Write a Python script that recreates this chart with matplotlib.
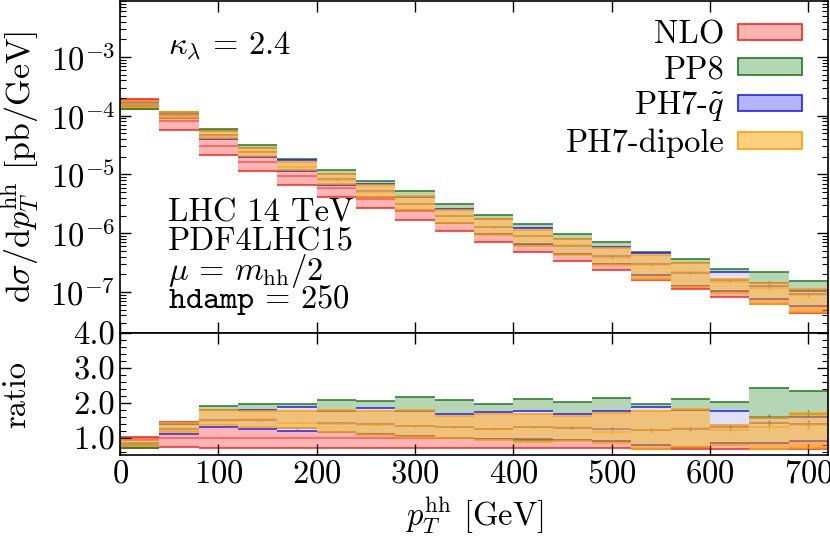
import numpy as np
import matplotlib
matplotlib.use("Agg")
import matplotlib.pyplot as plt
from matplotlib.patches import Patch
from matplotlib.ticker import FixedLocator, MultipleLocator, FormatStrFormatter, LogLocator

plt.rcParams["font.family"] = "serif"
plt.rcParams["font.serif"] = ["cmr10"]
plt.rcParams["mathtext.fontset"] = "cm"
plt.rcParams["axes.formatter.use_mathtext"] = True
plt.rcParams["font.size"] = 23.5

# bins in pT^hh [GeV]
pt_edges = [0, 40, 80, 120, 160, 200, 240, 280, 320, 360, 400, 440, 480, 520, 560, 600, 640, 680, 720]

# NLO central value [pb/GeV]
nlo_central = [1.88e-4, 8.1e-5, 3.08e-5, 1.61e-5, 9.5e-6, 5.83e-6, 3.79e-6, 2.40e-6, 1.52e-6,
               1.02e-6, 6.82e-7, 4.82e-7, 3.32e-7, 2.41e-7, 1.70e-7, 1.23e-7, 9.0e-8, 6.5e-8]

# everything below is relative to the NLO central value
nlo_lo = [0.70, 0.72, 0.71, 0.71, 0.71, 0.71, 0.71, 0.70, 0.71, 0.69, 0.70, 0.69, 0.70, 0.67, 0.67, 0.68, 0.68, 0.68]
nlo_c = [1.0] * 18
nlo_hi = [1.02, 1.44, 1.34, 1.30, 1.27, 1.25, 1.24, 1.23, 1.22, 1.21, 1.20, 1.20, 1.19, 1.19, 1.18, 1.18, 1.17, 1.17]

pp8_lo = [0.70, 1.15, 1.35, 1.30, 1.28, 1.20, 1.12, 1.10, 1.05, 0.95, 0.92, 0.92, 0.92, 0.85, 0.85, 0.95, 1.00, 1.05]
pp8_c = [0.74, 1.25, 1.55, 1.55, 1.49, 1.45, 1.40, 1.40, 1.35, 1.28, 1.33, 1.32, 1.30, 1.25, 1.30, 1.30, 1.59, 1.68]
pp8_hi = [0.80, 1.38, 1.92, 1.95, 1.97, 2.07, 2.06, 2.15, 2.09, 1.97, 2.11, 2.03, 2.14, 1.97, 2.12, 2.02, 2.42, 2.35]

ph7q_lo = [0.78, 1.11, 1.30, 1.25, 1.20, 1.15, 1.10, 1.05, 1.00, 0.95, 0.95, 0.92, 0.89, 0.80, 0.73, 0.85, 0.84, 0.90]
ph7q_c = [0.85, 1.25, 1.50, 1.50, 1.27, 1.42, 1.38, 1.33, 1.30, 1.25, 1.30, 1.28, 1.25, 1.22, 1.25, 1.30, 1.41, 1.40]
ph7q_hi = [0.92, 1.40, 1.80, 1.78, 1.88, 1.76, 1.84, 1.75, 1.69, 1.72, 1.77, 1.67, 1.75, 1.89, 1.80, 1.77, 1.55, 1.60]

dip_lo = [0.75, 1.15, 1.35, 1.30, 1.27, 1.17, 1.08, 1.02, 1.00, 0.93, 0.88, 0.90, 0.85, 0.68, 0.72, 0.79, 0.68, 0.70]
dip_c = [0.80, 1.21, 1.47, 1.52, 1.43, 1.39, 1.35, 1.33, 1.30, 1.24, 1.30, 1.30, 1.15, 1.21, 1.27, 1.22, 1.30, 1.35]
dip_hi = [0.94, 1.42, 1.78, 1.76, 1.75, 1.78, 1.75, 1.80, 1.63, 1.68, 1.67, 1.63, 1.70, 1.75, 1.83, 1.35, 1.55, 1.70]

# relative MC statistical error of the showered samples
stat_err = [0.005, 0.005, 0.005, 0.008, 0.01, 0.01, 0.012, 0.015, 0.02, 0.02,
            0.025, 0.03, 0.035, 0.04, 0.045, 0.05, 0.06, 0.07]

# name, lo, central, hi, line colour, band colour, legend colour, stat bar
series = [
    ("NLO", nlo_lo, nlo_c, nlo_hi, "#ff2020", "#ffb4b4", "#ffb4b4", False),
    ("PP8", pp8_lo, pp8_c, pp8_hi, "#217a21", "#b4d6b4", "#b4d6b4", True),
    (r"PH7-$\tilde{q}$", ph7q_lo, ph7q_c, ph7q_hi, "#2020ff", "#e0e0fa", "#b4b4ff", True),
    ("PH7-dipole", dip_lo, dip_c, dip_hi, "#ffa000", (1.0, 0.65, 0.0, 0.5), "#ffd080", True),
]

edges = np.array(pt_edges, dtype=float)
left = edges[:-1]
right = edges[1:]
width = right - left
mid = 0.5 * (left + right)


def draw(ax, scale):
    for k, (name, lo, c, hi, lcol, fcol, _, stat) in enumerate(series):
        lo = np.array(lo) * scale
        c = np.array(c) * scale
        hi = np.array(hi) * scale
        ax.bar(left, hi - lo, bottom=lo, width=width, align="edge",
               color=fcol, linewidth=0, zorder=1 + k)
        # lines of the first three sit below the dipole band
        z = 1.5 + k if k < 3 else 5
        ax.hlines(hi, left, right, color=lcol, lw=1.3, alpha=0.85, zorder=z)
        ax.hlines(lo, left, right, color=lcol, lw=1.3, alpha=0.85, zorder=z)
        ax.hlines(c, left, right, color=lcol, lw=1.3, alpha=0.55, zorder=z)
        if stat:
            err = c * np.array(stat_err)
            ax.vlines(mid, c - err, c + err, color=lcol, lw=1.0, alpha=0.7, zorder=z)


fig = plt.figure(figsize=(8.3, 5.42), dpi=100)
ax1 = fig.add_axes([120 / 830, 1 - 333 / 542, 708 / 830, 332 / 542])
ax2 = fig.add_axes([120 / 830, 1 - 455 / 542, 708 / 830, 122 / 542])

draw(ax1, np.array(nlo_central))
draw(ax2, 1.0)

for ax in (ax1, ax2):
    ax.set_xlim(0, 720)
    ax.tick_params(direction="in", top=True, right=True, which="both")
    ax.tick_params(which="major", length=8, width=1)
    ax.tick_params(which="minor", length=4, width=0.8)
    for sp in ax.spines.values():
        sp.set_linewidth(1.2)
        sp.set_zorder(10)
    ax.xaxis.set_major_locator(MultipleLocator(100))

ax1.set_yscale("log")
ax1.set_ylim(2.0e-8, 9e-3)
ax1.yaxis.set_major_locator(LogLocator(base=10, numticks=20))
ax1.yaxis.set_minor_locator(LogLocator(base=10, subs=np.arange(2, 10), numticks=20))
ax1.tick_params(labelbottom=False)
ax1.set_ylabel(r"$\mathrm{d}\sigma/\mathrm{d}p_T^{\mathrm{hh}}$ [pb/GeV]", fontsize=24.5)
ax1.yaxis.set_label_coords(-0.11, 0.5)

ax2.set_ylim(0.5, 4.0)
ax2.yaxis.set_major_locator(FixedLocator([1.0, 2.0, 3.0, 4.0]))
ax2.yaxis.set_major_formatter(FormatStrFormatter("%.1f"))
ax2.yaxis.set_minor_locator(MultipleLocator(0.2))
ax2.set_ylabel("ratio")
ax2.yaxis.set_label_coords(-0.125, 0.5)
ax2.set_xlabel(r"$p_T^{\mathrm{hh}}$ [GeV]", labelpad=4)

ax1.text(0.068, 0.864, r"$\kappa_\lambda\,=\,2.4$", transform=ax1.transAxes, va="center")
info = ["LHC 14 TeV", "PDF4LHC15", r"$\mu\,=\,m_{\mathrm{hh}}/2$", r"$\mathtt{hdamp}\,=\,250$"]
info_y = [0.362, 0.274, 0.186, 0.100]
for s, y in zip(info, info_y):
    ax1.text(0.068, y, s, transform=ax1.transAxes, va="center")

handles = [Patch(facecolor=s[6], edgecolor=s[4], lw=1.2) for s in series]
ax1.legend(handles, [s[0] for s in series], loc="upper right", bbox_to_anchor=(0.963, 0.94),
           frameon=False, markerfirst=False, handlelength=1.95, handleheight=0.39,
           handletextpad=0.42, labelspacing=0.16, borderpad=0, borderaxespad=0)

fig.savefig("out.png", dpi=100)
